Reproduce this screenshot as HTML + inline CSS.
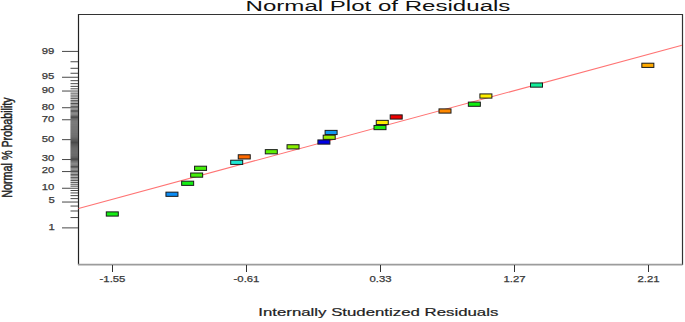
<!DOCTYPE html>
<html><head><meta charset="utf-8"><style>
html,body{margin:0;padding:0;background:#fff;width:685px;height:322px;overflow:hidden}
svg{position:absolute;left:0;top:0;display:block}
text{font-family:"Liberation Sans",sans-serif}
.yl{font-size:8.8px;fill:#3a3a3a;stroke:#3a3a3a;stroke-width:0.25px}
.xl{font-size:8.8px;fill:#3a3a3a;stroke:#3a3a3a;stroke-width:0.25px}
</style></head><body>
<svg width="685" height="322" viewBox="0 0 685 322">
<text x="245.6" y="10.8" font-size="14" fill="#111" textLength="264.8" lengthAdjust="spacingAndGlyphs">Normal Plot of Residuals</text>
<text x="258.3" y="316" font-size="11.2" fill="#1e1e1e" stroke="#1e1e1e" stroke-width="0.2" textLength="240" lengthAdjust="spacingAndGlyphs">Internally Studentized Residuals</text>
<text transform="translate(12.1,197.8) rotate(-90)" font-size="14" fill="#222" stroke="#222" stroke-width="0.45" textLength="100.5" lengthAdjust="spacingAndGlyphs">Normal % Probability</text>
<line x1="78.5" y1="14" x2="78.5" y2="265" stroke="#222" stroke-width="1.2"/>
<line x1="78" y1="14.5" x2="683" y2="14.5" stroke="#333" stroke-width="1.2"/>
<line x1="682.5" y1="14" x2="682.5" y2="265" stroke="#333" stroke-width="1.2"/>
<line x1="78" y1="264.7" x2="682.5" y2="264.7" stroke="#9c9c9c" stroke-width="1.8"/>
<line x1="62" y1="227.89" x2="78" y2="227.89" stroke="#484848" stroke-width="1"/>
<text x="54.9" y="229.69" class="yl" text-anchor="end" textLength="6.31" lengthAdjust="spacingAndGlyphs">1</text>
<line x1="70.5" y1="217.55" x2="78" y2="217.55" stroke="#4a4a4a" stroke-width="1"/>
<line x1="70.5" y1="210.99" x2="78" y2="210.99" stroke="#4a4a4a" stroke-width="1"/>
<line x1="70.5" y1="206.05" x2="78" y2="206.05" stroke="#4a4a4a" stroke-width="1"/>
<line x1="62" y1="202.04" x2="78" y2="202.04" stroke="#484848" stroke-width="1"/>
<text x="54.9" y="203.14" class="yl" text-anchor="end" textLength="6.31" lengthAdjust="spacingAndGlyphs">5</text>
<line x1="70.5" y1="198.62" x2="78" y2="198.62" stroke="#4a4a4a" stroke-width="1"/>
<line x1="70.5" y1="195.63" x2="78" y2="195.63" stroke="#4a4a4a" stroke-width="1"/>
<line x1="70.5" y1="192.94" x2="78" y2="192.94" stroke="#4a4a4a" stroke-width="1"/>
<line x1="70.5" y1="190.50" x2="78" y2="190.50" stroke="#4a4a4a" stroke-width="1"/>
<line x1="62" y1="188.26" x2="78" y2="188.26" stroke="#484848" stroke-width="1"/>
<text x="54.4" y="189.86" class="yl" text-anchor="end" textLength="12.62" lengthAdjust="spacingAndGlyphs">10</text>
<line x1="70.5" y1="186.17" x2="78" y2="186.17" stroke="#4a4a4a" stroke-width="1"/>
<line x1="70.5" y1="184.22" x2="78" y2="184.22" stroke="#4a4a4a" stroke-width="1"/>
<line x1="70.5" y1="182.37" x2="78" y2="182.37" stroke="#4a4a4a" stroke-width="1"/>
<line x1="70.5" y1="180.63" x2="78" y2="180.63" stroke="#4a4a4a" stroke-width="1"/>
<line x1="70.5" y1="178.96" x2="78" y2="178.96" stroke="#4a4a4a" stroke-width="1"/>
<line x1="70.5" y1="177.37" x2="78" y2="177.37" stroke="#4a4a4a" stroke-width="1"/>
<line x1="70.5" y1="175.84" x2="78" y2="175.84" stroke="#4a4a4a" stroke-width="1"/>
<line x1="70.5" y1="174.37" x2="78" y2="174.37" stroke="#4a4a4a" stroke-width="1"/>
<line x1="70.5" y1="172.95" x2="78" y2="172.95" stroke="#4a4a4a" stroke-width="1"/>
<line x1="62" y1="171.57" x2="78" y2="171.57" stroke="#484848" stroke-width="1"/>
<text x="54.4" y="173.17" class="yl" text-anchor="end" textLength="12.62" lengthAdjust="spacingAndGlyphs">20</text>
<line x1="70.5" y1="170.24" x2="78" y2="170.24" stroke="#4a4a4a" stroke-width="1"/>
<line x1="70.5" y1="168.94" x2="78" y2="168.94" stroke="#4a4a4a" stroke-width="1"/>
<line x1="70.5" y1="167.67" x2="78" y2="167.67" stroke="#4a4a4a" stroke-width="1"/>
<line x1="70.5" y1="166.44" x2="78" y2="166.44" stroke="#4a4a4a" stroke-width="1"/>
<line x1="70.5" y1="165.23" x2="78" y2="165.23" stroke="#4a4a4a" stroke-width="1"/>
<line x1="70.5" y1="164.05" x2="78" y2="164.05" stroke="#4a4a4a" stroke-width="1"/>
<line x1="70.5" y1="162.89" x2="78" y2="162.89" stroke="#4a4a4a" stroke-width="1"/>
<line x1="70.5" y1="161.76" x2="78" y2="161.76" stroke="#4a4a4a" stroke-width="1"/>
<line x1="70.5" y1="160.64" x2="78" y2="160.64" stroke="#4a4a4a" stroke-width="1"/>
<line x1="62" y1="159.54" x2="78" y2="159.54" stroke="#484848" stroke-width="1"/>
<text x="54.4" y="161.24" class="yl" text-anchor="end" textLength="12.62" lengthAdjust="spacingAndGlyphs">30</text>
<line x1="70.5" y1="158.46" x2="78" y2="158.46" stroke="#4a4a4a" stroke-width="1"/>
<line x1="70.5" y1="157.39" x2="78" y2="157.39" stroke="#4a4a4a" stroke-width="1"/>
<line x1="70.5" y1="156.34" x2="78" y2="156.34" stroke="#4a4a4a" stroke-width="1"/>
<line x1="70.5" y1="155.29" x2="78" y2="155.29" stroke="#4a4a4a" stroke-width="1"/>
<line x1="70.5" y1="154.27" x2="78" y2="154.27" stroke="#4a4a4a" stroke-width="1"/>
<line x1="70.5" y1="153.25" x2="78" y2="153.25" stroke="#4a4a4a" stroke-width="1"/>
<line x1="70.5" y1="152.24" x2="78" y2="152.24" stroke="#4a4a4a" stroke-width="1"/>
<line x1="70.5" y1="151.24" x2="78" y2="151.24" stroke="#4a4a4a" stroke-width="1"/>
<line x1="70.5" y1="150.24" x2="78" y2="150.24" stroke="#4a4a4a" stroke-width="1"/>
<line x1="70.5" y1="149.26" x2="78" y2="149.26" stroke="#4a4a4a" stroke-width="1"/>
<line x1="70.5" y1="148.28" x2="78" y2="148.28" stroke="#4a4a4a" stroke-width="1"/>
<line x1="70.5" y1="147.31" x2="78" y2="147.31" stroke="#4a4a4a" stroke-width="1"/>
<line x1="70.5" y1="146.34" x2="78" y2="146.34" stroke="#4a4a4a" stroke-width="1"/>
<line x1="70.5" y1="145.38" x2="78" y2="145.38" stroke="#4a4a4a" stroke-width="1"/>
<line x1="70.5" y1="144.42" x2="78" y2="144.42" stroke="#4a4a4a" stroke-width="1"/>
<line x1="70.5" y1="143.46" x2="78" y2="143.46" stroke="#4a4a4a" stroke-width="1"/>
<line x1="70.5" y1="142.50" x2="78" y2="142.50" stroke="#4a4a4a" stroke-width="1"/>
<line x1="70.5" y1="141.55" x2="78" y2="141.55" stroke="#4a4a4a" stroke-width="1"/>
<line x1="70.5" y1="140.60" x2="78" y2="140.60" stroke="#4a4a4a" stroke-width="1"/>
<line x1="62" y1="139.65" x2="78" y2="139.65" stroke="#484848" stroke-width="1"/>
<text x="54.4" y="142.25" class="yl" text-anchor="end" textLength="12.62" lengthAdjust="spacingAndGlyphs">50</text>
<line x1="70.5" y1="138.70" x2="78" y2="138.70" stroke="#4a4a4a" stroke-width="1"/>
<line x1="70.5" y1="137.75" x2="78" y2="137.75" stroke="#4a4a4a" stroke-width="1"/>
<line x1="70.5" y1="136.80" x2="78" y2="136.80" stroke="#4a4a4a" stroke-width="1"/>
<line x1="70.5" y1="135.84" x2="78" y2="135.84" stroke="#4a4a4a" stroke-width="1"/>
<line x1="70.5" y1="134.88" x2="78" y2="134.88" stroke="#4a4a4a" stroke-width="1"/>
<line x1="70.5" y1="133.92" x2="78" y2="133.92" stroke="#4a4a4a" stroke-width="1"/>
<line x1="70.5" y1="132.96" x2="78" y2="132.96" stroke="#4a4a4a" stroke-width="1"/>
<line x1="70.5" y1="131.99" x2="78" y2="131.99" stroke="#4a4a4a" stroke-width="1"/>
<line x1="70.5" y1="131.02" x2="78" y2="131.02" stroke="#4a4a4a" stroke-width="1"/>
<line x1="70.5" y1="130.04" x2="78" y2="130.04" stroke="#4a4a4a" stroke-width="1"/>
<line x1="70.5" y1="129.06" x2="78" y2="129.06" stroke="#4a4a4a" stroke-width="1"/>
<line x1="70.5" y1="128.06" x2="78" y2="128.06" stroke="#4a4a4a" stroke-width="1"/>
<line x1="70.5" y1="127.06" x2="78" y2="127.06" stroke="#4a4a4a" stroke-width="1"/>
<line x1="70.5" y1="126.05" x2="78" y2="126.05" stroke="#4a4a4a" stroke-width="1"/>
<line x1="70.5" y1="125.03" x2="78" y2="125.03" stroke="#4a4a4a" stroke-width="1"/>
<line x1="70.5" y1="124.01" x2="78" y2="124.01" stroke="#4a4a4a" stroke-width="1"/>
<line x1="70.5" y1="122.96" x2="78" y2="122.96" stroke="#4a4a4a" stroke-width="1"/>
<line x1="70.5" y1="121.91" x2="78" y2="121.91" stroke="#4a4a4a" stroke-width="1"/>
<line x1="70.5" y1="120.84" x2="78" y2="120.84" stroke="#4a4a4a" stroke-width="1"/>
<line x1="62" y1="119.76" x2="78" y2="119.76" stroke="#484848" stroke-width="1"/>
<text x="54.4" y="122.36" class="yl" text-anchor="end" textLength="12.62" lengthAdjust="spacingAndGlyphs">70</text>
<line x1="70.5" y1="118.66" x2="78" y2="118.66" stroke="#4a4a4a" stroke-width="1"/>
<line x1="70.5" y1="117.54" x2="78" y2="117.54" stroke="#4a4a4a" stroke-width="1"/>
<line x1="70.5" y1="116.41" x2="78" y2="116.41" stroke="#4a4a4a" stroke-width="1"/>
<line x1="70.5" y1="115.25" x2="78" y2="115.25" stroke="#4a4a4a" stroke-width="1"/>
<line x1="70.5" y1="114.07" x2="78" y2="114.07" stroke="#4a4a4a" stroke-width="1"/>
<line x1="70.5" y1="112.86" x2="78" y2="112.86" stroke="#4a4a4a" stroke-width="1"/>
<line x1="70.5" y1="111.63" x2="78" y2="111.63" stroke="#4a4a4a" stroke-width="1"/>
<line x1="70.5" y1="110.36" x2="78" y2="110.36" stroke="#4a4a4a" stroke-width="1"/>
<line x1="70.5" y1="109.06" x2="78" y2="109.06" stroke="#4a4a4a" stroke-width="1"/>
<line x1="62" y1="107.73" x2="78" y2="107.73" stroke="#484848" stroke-width="1"/>
<text x="54.4" y="110.33" class="yl" text-anchor="end" textLength="12.62" lengthAdjust="spacingAndGlyphs">80</text>
<line x1="70.5" y1="106.35" x2="78" y2="106.35" stroke="#4a4a4a" stroke-width="1"/>
<line x1="70.5" y1="104.93" x2="78" y2="104.93" stroke="#4a4a4a" stroke-width="1"/>
<line x1="70.5" y1="103.46" x2="78" y2="103.46" stroke="#4a4a4a" stroke-width="1"/>
<line x1="70.5" y1="101.93" x2="78" y2="101.93" stroke="#4a4a4a" stroke-width="1"/>
<line x1="70.5" y1="100.34" x2="78" y2="100.34" stroke="#4a4a4a" stroke-width="1"/>
<line x1="70.5" y1="98.67" x2="78" y2="98.67" stroke="#4a4a4a" stroke-width="1"/>
<line x1="70.5" y1="96.93" x2="78" y2="96.93" stroke="#4a4a4a" stroke-width="1"/>
<line x1="70.5" y1="95.08" x2="78" y2="95.08" stroke="#4a4a4a" stroke-width="1"/>
<line x1="70.5" y1="93.13" x2="78" y2="93.13" stroke="#4a4a4a" stroke-width="1"/>
<line x1="62" y1="91.04" x2="78" y2="91.04" stroke="#484848" stroke-width="1"/>
<text x="54.4" y="93.14" class="yl" text-anchor="end" textLength="12.62" lengthAdjust="spacingAndGlyphs">90</text>
<line x1="70.5" y1="88.80" x2="78" y2="88.80" stroke="#4a4a4a" stroke-width="1"/>
<line x1="70.5" y1="86.36" x2="78" y2="86.36" stroke="#4a4a4a" stroke-width="1"/>
<line x1="70.5" y1="83.67" x2="78" y2="83.67" stroke="#4a4a4a" stroke-width="1"/>
<line x1="70.5" y1="80.68" x2="78" y2="80.68" stroke="#4a4a4a" stroke-width="1"/>
<line x1="62" y1="77.26" x2="78" y2="77.26" stroke="#484848" stroke-width="1"/>
<text x="54.4" y="79.36" class="yl" text-anchor="end" textLength="12.62" lengthAdjust="spacingAndGlyphs">95</text>
<line x1="70.5" y1="73.25" x2="78" y2="73.25" stroke="#4a4a4a" stroke-width="1"/>
<line x1="70.5" y1="68.31" x2="78" y2="68.31" stroke="#4a4a4a" stroke-width="1"/>
<line x1="70.5" y1="61.75" x2="78" y2="61.75" stroke="#4a4a4a" stroke-width="1"/>
<line x1="62" y1="51.41" x2="78" y2="51.41" stroke="#484848" stroke-width="1"/>
<text x="54.4" y="53.51" class="yl" text-anchor="end" textLength="12.62" lengthAdjust="spacingAndGlyphs">99</text>
<line x1="112.5" y1="265" x2="112.5" y2="272" stroke="#333" stroke-width="1"/>
<text x="112.5" y="281.9" class="xl" text-anchor="middle" textLength="25.87" lengthAdjust="spacingAndGlyphs">-1.55</text>
<line x1="246.5" y1="265" x2="246.5" y2="272" stroke="#333" stroke-width="1"/>
<text x="246.5" y="281.9" class="xl" text-anchor="middle" textLength="25.87" lengthAdjust="spacingAndGlyphs">-0.61</text>
<line x1="380.5" y1="265" x2="380.5" y2="272" stroke="#333" stroke-width="1"/>
<text x="380.5" y="281.9" class="xl" text-anchor="middle" textLength="22.09" lengthAdjust="spacingAndGlyphs">0.33</text>
<line x1="514.5" y1="265" x2="514.5" y2="272" stroke="#333" stroke-width="1"/>
<text x="514.5" y="281.9" class="xl" text-anchor="middle" textLength="22.09" lengthAdjust="spacingAndGlyphs">1.27</text>
<line x1="648.5" y1="265" x2="648.5" y2="272" stroke="#333" stroke-width="1"/>
<text x="648.5" y="281.9" class="xl" text-anchor="middle" textLength="22.09" lengthAdjust="spacingAndGlyphs">2.21</text>
<line x1="78.5" y1="208.5" x2="682" y2="45.2" stroke="#ff7474" stroke-width="1.15"/>
<rect x="641.85" y="63.21" width="12" height="4.20" fill="#ffaa00" stroke="#1a1a1a" stroke-width="1"/>
<rect x="530.50" y="82.95" width="12" height="4.20" fill="#11ee99" stroke="#1a1a1a" stroke-width="1"/>
<rect x="479.90" y="93.92" width="12" height="4.20" fill="#ffee00" stroke="#1a1a1a" stroke-width="1"/>
<rect x="468.35" y="102.10" width="12" height="4.20" fill="#11ee11" stroke="#1a1a1a" stroke-width="1"/>
<rect x="439.00" y="108.90" width="12" height="4.20" fill="#ff8800" stroke="#1a1a1a" stroke-width="1"/>
<rect x="390.20" y="114.88" width="12" height="4.20" fill="#ee0000" stroke="#1a1a1a" stroke-width="1"/>
<rect x="376.25" y="120.34" width="12" height="4.20" fill="#ffee00" stroke="#1a1a1a" stroke-width="1"/>
<rect x="374.00" y="125.46" width="12" height="4.20" fill="#22ee11" stroke="#1a1a1a" stroke-width="1"/>
<rect x="325.10" y="130.38" width="12" height="4.20" fill="#1199f0" stroke="#1a1a1a" stroke-width="1"/>
<rect x="323.20" y="135.17" width="12" height="4.20" fill="#99f000" stroke="#1a1a1a" stroke-width="1"/>
<rect x="317.90" y="139.93" width="12" height="4.20" fill="#0000e6" stroke="#1a1a1a" stroke-width="1"/>
<rect x="287.05" y="144.72" width="12" height="4.20" fill="#88f000" stroke="#1a1a1a" stroke-width="1"/>
<rect x="265.30" y="149.64" width="12" height="4.20" fill="#5cf000" stroke="#1a1a1a" stroke-width="1"/>
<rect x="238.25" y="154.76" width="12" height="4.20" fill="#ff6a00" stroke="#1a1a1a" stroke-width="1"/>
<rect x="230.70" y="160.22" width="12" height="4.20" fill="#1ee8d4" stroke="#1a1a1a" stroke-width="1"/>
<rect x="194.55" y="166.20" width="12" height="4.20" fill="#44ee0a" stroke="#1a1a1a" stroke-width="1"/>
<rect x="190.65" y="173.00" width="12" height="4.20" fill="#44ee0a" stroke="#1a1a1a" stroke-width="1"/>
<rect x="181.65" y="181.18" width="12" height="4.20" fill="#14ee14" stroke="#1a1a1a" stroke-width="1"/>
<rect x="165.95" y="192.15" width="12" height="4.20" fill="#0a8cf5" stroke="#1a1a1a" stroke-width="1"/>
<rect x="106.30" y="211.89" width="12" height="4.20" fill="#14ee14" stroke="#1a1a1a" stroke-width="1"/>
</svg>
</body></html>
